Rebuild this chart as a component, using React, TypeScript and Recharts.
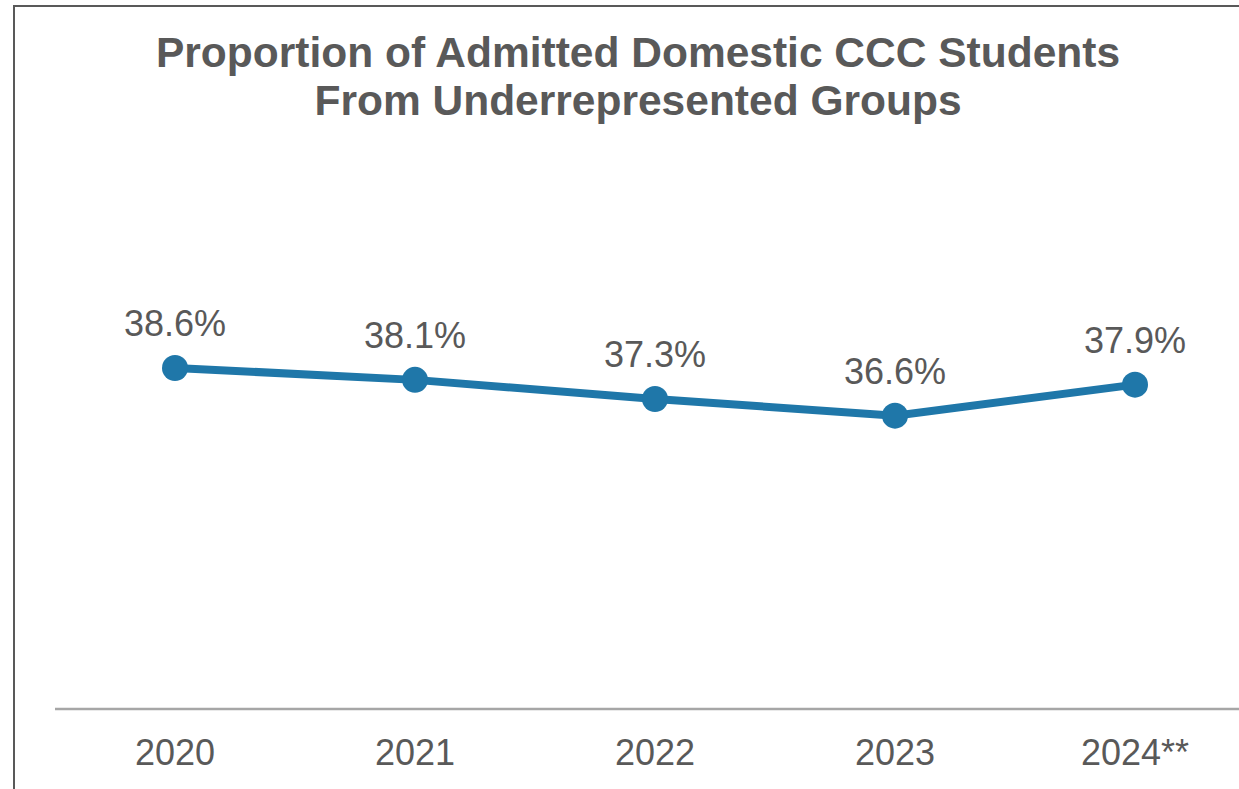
import React from "react";
import { LineChart, Line, XAxis, YAxis, LabelList } from "recharts";

const years = ["2020", "2021", "2022", "2023", "2024**"];
const shares = [38.6, 38.1, 37.3, 36.6, 37.9];

const TEXT = "#595959";
const BLUE = "#1f77a9";
const FONT = "'Liberation Sans', Arial, sans-serif";

const data = years.map((year, i) => ({ year, share: shares[i] }));

export default function App() {
  return (
    <div
      style={{
        position: "fixed",
        top: 0,
        left: 0,
        width: 1239,
        height: 789,
        overflow: "hidden",
        background: "#fff",
        fontFamily: FONT,
      }}
    >
      <div
        style={{
          position: "absolute",
          left: 13,
          top: 5,
          width: 1300,
          height: 850,
          border: "2px solid #595959",
        }}
      />
      <div
        style={{
          position: "absolute",
          left: 0,
          top: 29,
          width: 1276,
          textAlign: "center",
          fontSize: 42.5,
          lineHeight: "48px",
          fontWeight: 700,
          color: TEXT,
        }}
      >
        Proportion of Admitted Domestic CCC Students
        <br />
        From Underrepresented Groups
      </div>
      <div style={{ position: "absolute", left: 0, top: 0 }}>
        <LineChart
          width={1255}
          height={789}
          data={data}
          margin={{ top: 232, right: 0, bottom: 0, left: 55 }}
          style={{ fontFamily: FONT }}
        >
          <YAxis hide type="number" domain={[24.3, 44.3]} />
          <XAxis
            dataKey="year"
            height={80}
            padding={{ left: 120, right: 120 }}
            axisLine={{ stroke: "#a6a6a6", strokeWidth: 2.5 }}
            tickLine={false}
            tickMargin={24}
            tick={{ fontSize: 36, fill: TEXT }}
            interval={0}
          />
          <Line
            type="linear"
            dataKey="share"
            stroke={BLUE}
            strokeWidth={8}
            dot={{ r: 13, fill: BLUE, stroke: "none" }}
            activeDot={false}
            isAnimationActive={false}
          >
            <LabelList
              dataKey="share"
              position="top"
              offset={32}
              formatter={(v: number) => `${v.toFixed(1)}%`}
              style={{ fontSize: 36, fill: TEXT }}
            />
          </Line>
        </LineChart>
      </div>
    </div>
  );
}
